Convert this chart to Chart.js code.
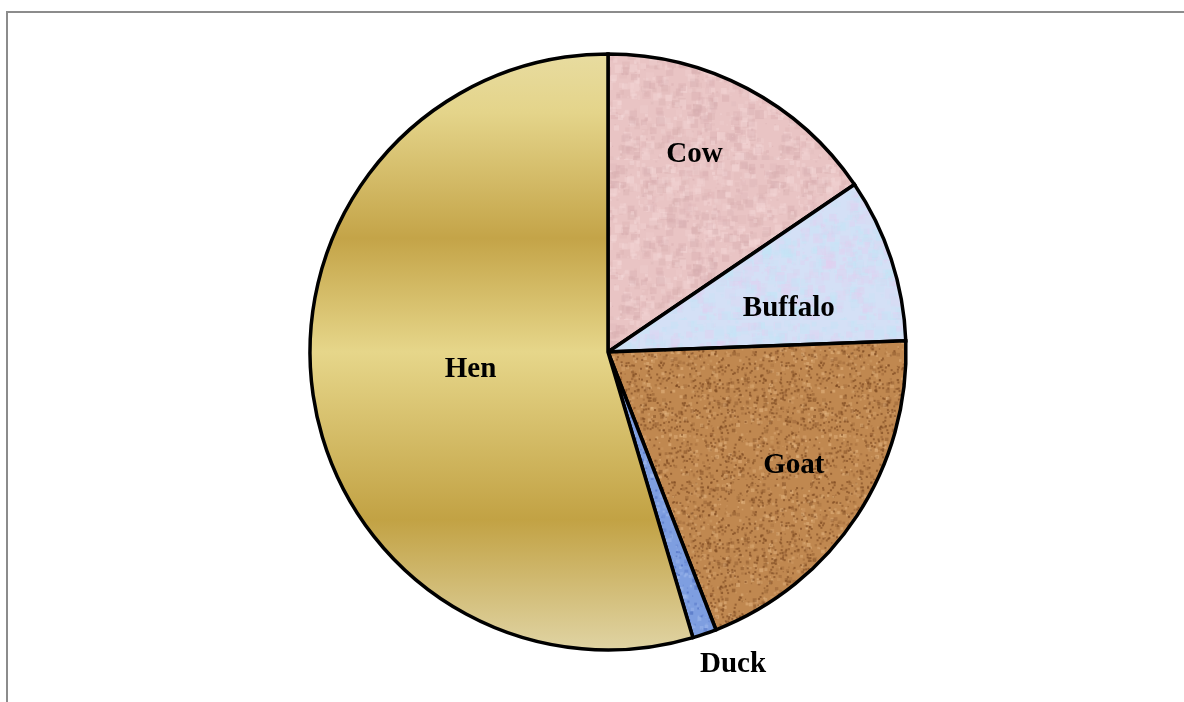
<!DOCTYPE html>
<html>
<head>
<meta charset="utf-8">
<script src="https://cdn.jsdelivr.net/npm/chart.js@4/dist/chart.umd.min.js"></script>
<style>
    html, body { margin: 0; padding: 0; background: #fff; overflow: hidden; }
    #frame { position: absolute; left: 6px; top: 11px; width: 1200px; height: 720px;
             border-top: 2px solid #8c8c8c; border-left: 2px solid #8c8c8c; }
    #wrap { position: absolute; left: 0; top: 0; width: 1184px; height: 702px; }
</style>
</head>
<body>
<div id="frame"></div>
<div id="wrap"><canvas id="myChart" width="1184" height="702"></canvas></div>
<script>
const categories = ['Cow', 'Buffalo', 'Goat', 'Duck', 'Hen'];
const shares = [15.5, 8.9, 19.7, 1.3, 54.6];
// label placement: turn from the slice middle (degrees) and distance as share of radius
const labelTurn = [-4.6, 3.9, -2.6, -3.1, 2.2];
const labelDistance = [0.733, 0.626, 0.725, 1.12, 0.464];

// small seeded generator so the textures come out the same every time
let seed = 7;
function rnd() {
    seed = (seed * 16807) % 2147483647;
    return (seed - 1) / 2147483646;
}

function makeTexture(base, light, dark, blob, speck) {
    let c = document.createElement('canvas');
    c.width = 160;
    c.height = 160;
    let g = c.getContext('2d');
    g.fillStyle = base;
    g.fillRect(0, 0, 160, 160);
    for (let i = 0; i < 900; i++) {
        g.fillStyle = rnd() < 0.5 ? light : dark;
        g.globalAlpha = 0.15 + rnd() * 0.35;
        let s = 1 + rnd() * blob;
        g.fillRect(rnd() * 160, rnd() * 160, s, s);
    }
    g.globalAlpha = 0.6;
    for (let i = 0; i < speck; i++) {
        g.fillStyle = dark;
        g.fillRect(rnd() * 160, rnd() * 160, 2, 2);
    }
    g.globalAlpha = 1;
    return c;
}

function henGradient(chart) {
    let area = chart.chartArea;
    if (!area) return '#d8c470';
    let grad = chart.ctx.createLinearGradient(0, area.top, 0, area.bottom);
    grad.addColorStop(0, '#e8dca0');
    grad.addColorStop(0.1, '#e4d48a');
    grad.addColorStop(0.31, '#c4a448');
    grad.addColorStop(0.5, '#e6d68a');
    grad.addColorStop(0.78, '#c2a244');
    grad.addColorStop(1, '#e0d4a4');
    return grad;
}

let ctx = document.getElementById('myChart').getContext('2d');
const fills = [
    ctx.createPattern(makeTexture('#e9c4c4', '#f4d8d8', '#d8aeb0', 8, 0), 'repeat'),
    ctx.createPattern(makeTexture('#d4e0f6', '#c4e4f6', '#e0d0f0', 9, 0), 'repeat'),
    ctx.createPattern(makeTexture('#c08850', '#e8bc88', '#7c4820', 3, 700), 'repeat'),
    ctx.createPattern(makeTexture('#7e9ee0', '#a8c0f0', '#4c6cc0', 3, 150), 'repeat'),
    null
];

const sliceLabels = {
    id: 'sliceLabels',
    afterDatasetsDraw(chart) {
        let c = chart.ctx;
        let arcs = chart.getDatasetMeta(0).data;
        c.save();
        c.font = 'bold 29px "Liberation Serif", "Times New Roman", serif';
        c.fillStyle = '#000';
        c.textAlign = 'center';
        c.textBaseline = 'middle';
        arcs.forEach(function (arc, i) {
            let mid = (arc.startAngle + arc.endAngle) / 2 + labelTurn[i] * Math.PI / 180;
            let r = arc.outerRadius * labelDistance[i];
            c.fillText(categories[i], arc.x + Math.cos(mid) * r, arc.y + Math.sin(mid) * r + 3);
        });
        c.restore();
    }
};

new Chart(ctx, {
    type: 'pie',
    data: {
        labels: categories,
        datasets: [{
            data: shares,
            backgroundColor: function (context) {
                return fills[context.dataIndex] || henGradient(context.chart);
            },
            borderColor: '#000',
            borderWidth: 3.5,
            borderJoinStyle: 'miter'
        }]
    },
    options: {
        responsive: false,
        animation: false,
        radius: 298,
        layout: { padding: { top: 53, bottom: 51, left: 40, right: 8 } },
        plugins: {
            legend: { display: false },
            tooltip: { enabled: false }
        }
    },
    plugins: [sliceLabels]
});
</script>
</body>
</html>
